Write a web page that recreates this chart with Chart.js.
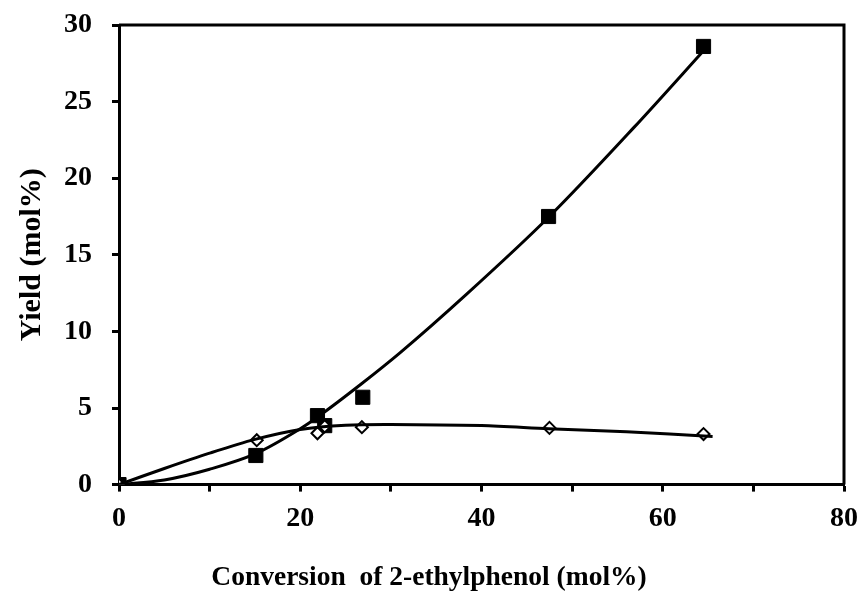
<!DOCTYPE html>
<html>
<head>
<meta charset="utf-8">
<script src="https://cdn.jsdelivr.net/npm/chart.js@4.4.0/dist/chart.umd.min.js"></script>
<style>
  html, body { margin: 0; padding: 0; background: #fff; }
  #wrap { width: 865px; height: 607px; }
</style>
</head>
<body>
<div id="wrap"><canvas id="myChart" width="865" height="607"></canvas></div>
<script>
// measured points (filled squares)
let sqX = [0, 15.1, 21.9, 22.7, 26.9, 47.4, 64.5];
let sqY = [0, 1.9, 4.5, 3.85, 5.7, 17.5, 28.6];

// measured points (open diamonds)
let dmX = [0, 15.2, 21.9, 22.7, 26.8, 47.5, 64.5];
let dmY = [0, 2.9, 3.35, 3.8, 3.75, 3.7, 3.3];

// trend lines
let fitSqX = [0, 5, 10, 15, 20, 22, 26.8, 31, 38.3, 47.4, 56.8, 65];
let fitSqY = [0, 0.3, 1.0, 2.0, 3.65, 4.45, 6.6, 8.6, 12.4, 17.45, 23.3, 28.65];
let fitDmX = [0, 5, 10, 15, 20, 25, 30, 40, 47.4, 56, 65.5];
let fitDmY = [0, 1.05, 2.05, 2.95, 3.6, 3.88, 3.93, 3.85, 3.65, 3.45, 3.14];

// axis ticks
let xTicks = [0, 20, 40, 60, 80];
let yTicks = [0, 5, 10, 15, 20, 25, 30];

let xTitle = 'Conversion  of 2-ethylphenol (mol%)';
let yTitle = 'Yield (mol%)';

function pts(xs, ys) {
    let out = [];
    for (var i = 0; i < xs.length; i++) {
        out.push({x: xs[i], y: ys[i]});
    }
    return out;
}

let serif = "'Liberation Serif', 'Times New Roman', serif";
let bold = {family: serif, size: 28, weight: 'bold'};

// frame: top and right edges of the plot box
let boxPlugin = {
    id: 'box',
    afterDraw(chart) {
        let a = chart.chartArea;
        let ctx = chart.ctx;
        ctx.save();
        ctx.strokeStyle = '#000';
        ctx.lineWidth = 3;
        ctx.beginPath();
        ctx.moveTo(a.left, a.top);
        ctx.lineTo(a.right, a.top);
        ctx.lineTo(a.right, a.bottom);
        ctx.stroke();
        ctx.restore();
    }
};

let ctx = document.getElementById('myChart').getContext('2d');
window.myChart = new Chart(ctx, {
    type: 'scatter',
    data: {
        datasets: [{
            type: 'line',
            data: pts(fitSqX, fitSqY),
            borderColor: '#000',
            borderWidth: 3,
            pointRadius: 0,
            cubicInterpolationMode: 'monotone',
            fill: false,
            order: 1
        }, {
            type: 'line',
            data: pts(fitDmX, fitDmY),
            borderColor: '#000',
            borderWidth: 3,
            pointRadius: 0,
            tension: 0.3,
            fill: false,
            order: 2
        }, {
            data: pts(dmX, dmY),
            pointStyle: 'rectRot',
            pointRadius: 6,
            pointBackgroundColor: '#fff',
            pointBorderColor: '#000',
            pointBorderWidth: 2,
            order: 3
        }, {
            data: pts(sqX, sqY),
            pointStyle: 'rect',
            pointRadius: 10,
            pointBackgroundColor: '#000',
            pointBorderColor: '#000',
            pointBorderWidth: 1,
            order: 4
        }]
    },
    options: {
        responsive: false,
        animation: false,
        layout: {padding: {left: 14, top: 25, right: 21, bottom: 0}},
        plugins: {
            legend: {display: false},
            tooltip: {enabled: false},
            title: {
                display: true,
                position: 'bottom',
                text: xTitle,
                color: '#000',
                font: {family: serif, size: 27.5, weight: 'bold'},
                padding: {top: 0, bottom: 13}
            }
        },
        scales: {
            x: {
                min: 0, max: 80,
                afterFit: s => { s.height = 76.4; s.paddingLeft = 0; s.paddingRight = 0; },
                ticks: {
                    stepSize: 10,
                    color: '#000',
                    font: bold,
                    padding: 10,
                    maxRotation: 0,
                    callback: v => xTicks.includes(v) ? v : ''
                },
                grid: {drawOnChartArea: false, tickLength: 7, tickWidth: 3, tickColor: '#000'},
                border: {color: '#000', width: 3}
            },
            y: {
                min: 0, max: 30,
                afterFit: s => { s.width = 105; s.paddingTop = 0; s.paddingBottom = 0; },
                ticks: {
                    stepSize: 5,
                    color: '#000',
                    font: bold,
                    padding: 20,
                    callback: v => yTicks.includes(v) ? v : ''
                },
                title: {display: true, text: yTitle, color: '#000', font: {family: serif, size: 30, weight: 'bold'}, padding: {top: 0, bottom: 0}},
                grid: {drawOnChartArea: false, tickLength: 7, tickWidth: 3, tickColor: '#000'},
                border: {color: '#000', width: 3}
            }
        }
    },
    plugins: [boxPlugin]
});
</script>
</body>
</html>
